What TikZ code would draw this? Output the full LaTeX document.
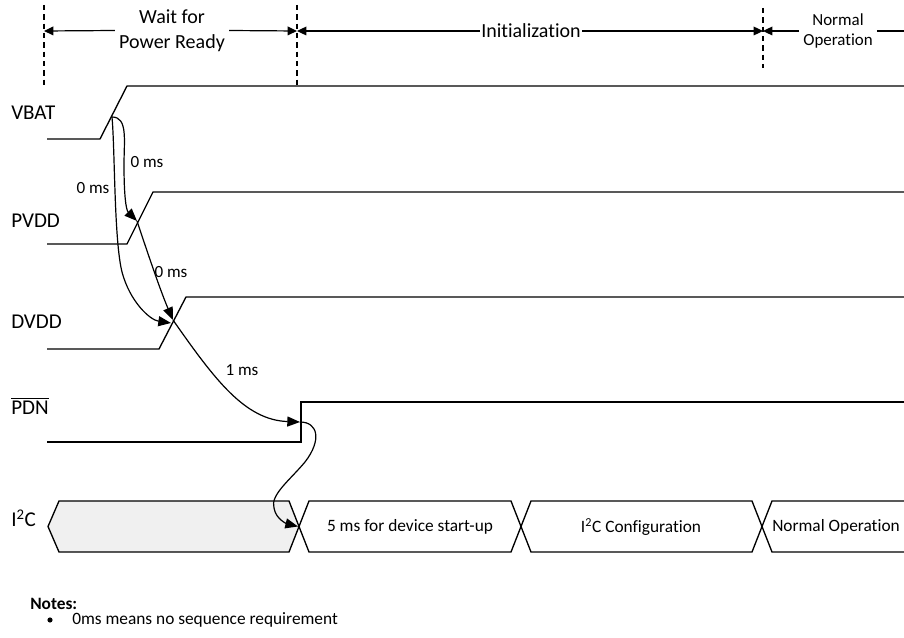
\documentclass[tikz,border=0pt]{standalone}
\usepackage{fontspec}
\setmainfont{Carlito}[Ligatures=NoCommon]
\usetikzlibrary{arrows.meta}
\definecolor{busgray}{RGB}{240,240,240}
\begin{document}
\begin{tikzpicture}[x=0.75pt,y=-0.75pt,
  wave/.style={line width=1pt},
  guide/.style={line width=0.9pt,dash pattern=on 4pt off 3pt},
  dimline/.style={line width=0.9pt},
  dimtip/.style={line width=0.9pt,-{Triangle[length=7pt,width=6.5pt]}},
  seqarrow/.style={line width=0.9pt,-{Triangle[length=9.5pt,width=7.5pt]}},
  hdr/.style={font=\fontsize{15}{18.75}\selectfont,align=center,inner xsep=3pt,inner ysep=0pt},
  hdrsmall/.style={font=\fontsize{12.7}{15.5}\selectfont,align=center,inner xsep=3pt,inner ysep=0pt},
  siglabel/.style={anchor=west,font=\fontsize{15.8}{18}\selectfont,inner sep=0pt},
  mslabel/.style={font=\fontsize{12.8}{15}\selectfont,inner sep=0pt},
  bustext/.style={font=\fontsize{13}{15}\selectfont,inner sep=0pt},
  bus/.style={line width=1pt,line join=miter},
  notetext/.style={anchor=west,font=\fontsize{13}{15}\selectfont,inner sep=0pt}
]
\useasboundingbox (0,0) rectangle (904,638);

% ---- guide lines ----
\coordinate (g1t) at (44,5);   \coordinate (g1b) at (44,88);
\coordinate (g2t) at (297,5);  \coordinate (g2b) at (297,88);
\coordinate (g3t) at (763,8);  \coordinate (g3b) at (763,68);
\draw[guide] (g1t) -- (g1b);
\draw[guide] (g2t) -- (g2b);
\draw[guide] (g3t) -- (g3b);
\coordinate (g1) at (44,31);
\coordinate (g2) at (297,31);
\coordinate (g3) at (763,31);
\coordinate (hend) at (904,31);

% ---- header labels ----
\node[hdr] (wait) at (172,30.5) {Wait for\\Power Ready};
\node[hdr,inner xsep=1pt] (init) at (531,31) {Initialization};
\node[hdrsmall] (norm) at (838,31) {Normal\\Operation};
\draw[dimtip] (wait.west) -- (g1);
\draw[dimtip] (wait.east) -- (g2);
\draw[dimtip] (init.west) -- (g2);
\draw[dimtip] (init.east) -- (g3);
\draw[dimtip] (norm.west) -- (g3);
\draw[dimline] (norm.east) -- (hend);

% ---- signal labels ----
\node[siglabel] (lvbat) at (11,113) {VBAT};
\node[siglabel] (lpvdd) at (11,221) {PVDD};
\node[siglabel] (ldvdd) at (11,322) {DVDD};
\node[siglabel] (lpdn)  at (11,406) {$\overline{\mbox{PDN}}$};
\node[siglabel] (li2c)  at (11,518) {I\textsuperscript{2}C};

% ---- waveforms ----
\draw[wave] (47,139) -- (100,139) -- (127,86) -- (904,86);
\draw[wave] (47,244) -- (127,244) -- (153,192) -- (904,192);
\draw[wave] (47,349) -- (159,349) -- (186,297) -- (904,297);
\draw[wave] (47,442) -- (301,442) -- (301,402) -- (904,402);

% ---- event points ----
\coordinate (vbatr) at (112,117);
\coordinate (pvddr) at (137,221);
\coordinate (dvddr) at (173,320);
\coordinate (dvddl) at (171,323);
\coordinate (pdnr)  at (300,422);
\coordinate (busx)  at (298,526.5);

% ---- I2C bus ----
\draw[bus,fill=busgray] (48,526.5) -- (59,501) -- (289,501) -- (299,526.5) -- (289,552) -- (59,552) -- cycle;
\draw[bus] (299,526.5) -- (309,501) -- (511,501) -- (521,526.5) -- (511,552) -- (309,552) -- cycle;
\draw[bus] (521,526.5) -- (531,501) -- (752,501) -- (762,526.5) -- (752,552) -- (531,552) -- cycle;
\draw[bus] (904,501) -- (772,501) -- (762,526.5) -- (772,552) -- (904,552);
\node[bustext] (b1) at (410,527) {5 ms for device start-up};
\node[bustext] (b2) at (641,527) {I\textsuperscript{2}C Configuration};
\node[bustext] (b3) at (836,527) {Normal Operation};

% ---- sequence arrows ----
\draw[seqarrow] (vbatr) .. controls (128,117) and (124,140) .. (124,165)
   .. controls (124,195) and (126,210) .. (pvddr);
\draw[seqarrow] (vbatr) .. controls (115,150) and (114,240) .. (122,272)
   .. controls (130,302) and (150,320) .. (dvddl);
\draw[seqarrow] (pvddr) .. controls (145,245) and (160,290) .. (dvddr);
\draw[seqarrow] (dvddr) .. controls (215,380) and (245,420) .. (pdnr);
\draw[seqarrow] (pdnr) .. controls (318,422) and (322,440) .. (305,462)
   .. controls (290,480) and (270,495) .. (274,508)
   .. controls (276,520) and (288,524) .. (busx);

\node[mslabel] (ms1) at (147,162) {0 ms};
\node[mslabel] (ms2) at (93,188) {0 ms};
\node[mslabel] (ms3) at (171,272) {0 ms};
\node[mslabel] (ms4) at (242,370) {1 ms};

% ---- notes ----
\node[notetext,font=\fontsize{13}{15}\selectfont\bfseries] (notes) at (30,604) {Notes:};
\fill (50,620) circle (2.6);
\node[notetext] (note1) at (72,620) {0ms means no sequence requirement};
\end{tikzpicture}
\end{document}
